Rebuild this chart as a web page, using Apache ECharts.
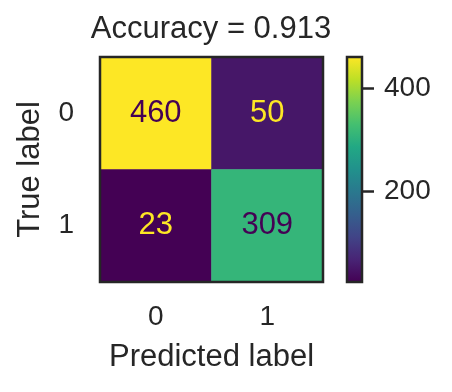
<!DOCTYPE html>
<html>
<head>
<meta charset="utf-8">
<script src="https://cdn.jsdelivr.net/npm/echarts@6/dist/echarts.min.js"></script>
<style>html,body{margin:0;padding:0;background:#fff;}#c{width:452px;height:392px;}</style>
</head>
<body>
<div id="c"></div>
<script>
const predictedLabels = ['0', '1'];
const trueLabels = ['0', '1'];
const matrix = [
  [460, 50],
  [23, 309]
];
const titleText = 'Accuracy = 0.913';
const colorbarTicks = [200, 400];
const viridis = ['#440154','#482475','#414487','#355f8d','#2a788e','#21918c','#22a884','#44bf70','#7ad151','#bddf26','#fde725'];

const flat = matrix.flat();
const vmin = Math.min(...flat), vmax = Math.max(...flat);
const thresh = (vmin + vmax) / 2;
const heatData = [];
matrix.forEach((row, i) => row.forEach((v, j) => {
  heatData.push({ value: [j, i, v], label: { color: v < thresh ? viridis[viridis.length - 1] : viridis[0] } });
}));

const FONT = "'Liberation Sans', Arial, sans-serif";
const INK = '#262626';
const gradStops = viridis.map((c, k) => ({ offset: 1 - k / (viridis.length - 1), color: c }));

const chart = echarts.init(document.getElementById('c'), null, { renderer: 'canvas' });
chart.setOption({
  animation: false,
  backgroundColor: '#fff',
  textStyle: { fontFamily: FONT, color: INK },
  title: {
    text: titleText, left: 211, top: 14, padding: 0, textAlign: 'center',
    textStyle: { fontFamily: FONT, fontSize: 31, fontWeight: 'normal', color: INK }
  },
  grid: [
    { left: 100, top: 57, width: 223, height: 225, show: true, z: 5, backgroundColor: 'transparent', borderColor: INK, borderWidth: 2.5 },
    { left: 347, top: 57, width: 15, height: 225, show: true, z: 5, backgroundColor: 'transparent', borderColor: INK, borderWidth: 2.5 }
  ],
  xAxis: [
    { type: 'category', gridIndex: 0, data: predictedLabels, name: 'Predicted label', nameLocation: 'middle', nameGap: 60,
      nameTextStyle: { fontFamily: FONT, fontSize: 31, color: INK },
      axisLine: { show: false }, axisTick: { show: false }, splitArea: { show: false },
      axisLabel: { fontFamily: FONT, fontSize: 28, color: INK, margin: 21 } },
    { type: 'category', gridIndex: 1, data: ['cb'], show: false }
  ],
  yAxis: [
    { type: 'category', gridIndex: 0, data: trueLabels, inverse: true, name: 'True label', nameLocation: 'middle', nameGap: 54,
      nameTextStyle: { fontFamily: FONT, fontSize: 31, color: INK },
      axisLine: { show: false }, axisTick: { show: false }, splitArea: { show: false },
      axisLabel: { fontFamily: FONT, fontSize: 28, color: INK, margin: 26 } },
    { type: 'value', gridIndex: 1, position: 'right', min: vmin, max: vmax, splitLine: { show: false },
      axisLine: { show: false },
      axisTick: { show: true, length: 12, customValues: colorbarTicks, lineStyle: { color: INK, width: 2.5 } },
      axisLabel: { show: true, customValues: colorbarTicks, fontFamily: FONT, fontSize: 28, color: INK, margin: 22 } }
  ],
  visualMap: {
    show: false, seriesIndex: 0, min: vmin, max: vmax, dimension: 2,
    inRange: { color: viridis }
  },
  series: [
    { type: 'heatmap', xAxisIndex: 0, yAxisIndex: 0, data: heatData,
      label: { show: true, fontFamily: FONT, fontSize: 31, formatter: p => p.value[2] },
      itemStyle: { borderWidth: 0 }, emphasis: { disabled: true } },
    { type: 'bar', xAxisIndex: 1, yAxisIndex: 1, data: [vmax], barWidth: '100%', clip: true, silent: true,
      itemStyle: { color: new echarts.graphic.LinearGradient(0, 0, 0, 1, gradStops) } }
  ]
});
</script>
</body>
</html>
